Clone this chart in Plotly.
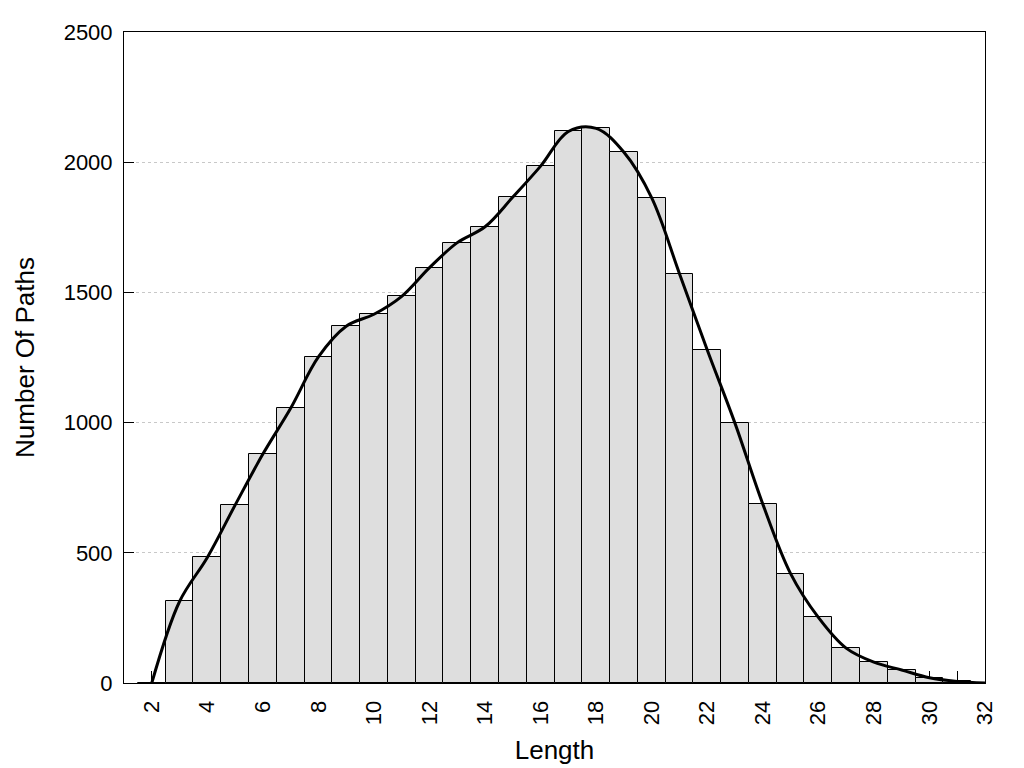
import plotly.graph_objects as go

# Data
lengths = list(range(2, 33))
counts = [0, 313, 482, 683, 879, 1055, 1252, 1370, 1416, 1485, 1595, 1691,
          1752, 1866, 1985, 2118, 2130, 2038, 1863, 1572, 1279, 997, 687,
          420, 252, 134, 80, 50, 20, 6, 0]
y_ticks = [0, 500, 1000, 1500, 2000, 2500]

fig = go.Figure()
fig.add_bar(
    x=lengths, y=counts, width=1,
    marker=dict(color="#dedede", line=dict(color="black", width=1)),
)
fig.add_scatter(
    x=lengths, y=counts, mode="lines",
    line=dict(color="black", width=3, shape="spline", smoothing=1),
)

fig.update_layout(
    width=1024, height=768,
    margin=dict(l=116, r=47, t=19, b=93),
    plot_bgcolor="white", paper_bgcolor="white",
    showlegend=False,
    font=dict(family="Liberation Sans", size=22, color="black"),
    bargap=0,
)
fig.update_xaxes(
    range=[1, 32], tickmode="linear", tick0=2, dtick=2,
    tickangle=-90, ticks="inside", ticklen=12, tickcolor="black",
    minor=dict(ticks="inside", dtick=1, tick0=1, ticklen=12,
               tickcolor="black", showgrid=False),
    showline=True, linecolor="black", linewidth=1, mirror=True,
    showgrid=False, zeroline=False, layer="below traces",
    ticklabelstandoff=8,
    title=dict(text="Length", standoff=16),
)
fig.update_yaxes(
    range=[0, 2500], tickvals=y_ticks,
    ticks="inside", ticklen=10, tickcolor="black",
    showline=True, linecolor="black", linewidth=1, mirror=True,
    showgrid=True, gridcolor="#c8c8c8", griddash="dot", gridwidth=1,
    zeroline=False, layer="below traces",
    ticklabelstandoff=6,
    title=dict(text="Number Of Paths", standoff=21),
)

fig.write_html("out.html")
